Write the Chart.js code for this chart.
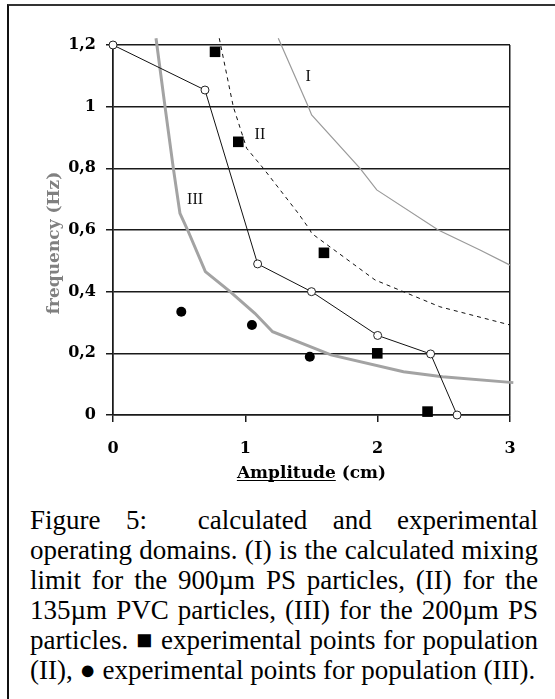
<!DOCTYPE html>
<html>
<head>
<meta charset="utf-8">
<script src="https://cdn.jsdelivr.net/npm/chart.js@4.4.1/dist/chart.umd.min.js"></script>
<style>
  html, body { margin: 0; padding: 0; background: #fff; }
  body { width: 555px; height: 699px; position: relative; overflow: hidden; }
  #frame { position: absolute; left: 7px; top: 4px; width: 560px; height: 720px;
           border-left: 2.5px solid #111; border-top: 2px solid #333; }
  #wrap { position: absolute; left: 0; top: 0; width: 555px; height: 500px; }
  #caption { position: absolute; left: 30px; top: 505px; width: 508px;
             font-family: "Liberation Serif", "Times New Roman", serif; font-size: 27px;
             line-height: 30px; color: #000; }
  #caption div { text-align: justify; text-align-last: justify; }
  #caption div.last { text-align: left; text-align-last: left; white-space: nowrap; }
</style>
</head>
<body>
<div id="frame"></div>
<div id="wrap"><canvas id="c"></canvas></div>
<div id="caption">
  <div>Figure 5:&nbsp; calculated and experimental</div>
  <div>operating domains. (I) is the calculated mixing</div>
  <div>limit for the 900µm PS particles, (II) for the</div>
  <div>135µm PVC particles, (III) for the 200µm PS</div>
  <div>particles. ■ experimental points for population</div>
  <div class="last">(II), ● experimental points for population (III).</div>
</div>
<script>
// ---- data ----
const xTickValues = [0, 1, 2, 3];
const yTickLabels = ['0', '0,2', '0,4', '0,6', '0,8', '1', '1,2'];
const xTitle = ['Amplitude', ' (cm)'];
const yTitle = 'frequency (Hz)';

// calculated mixing limits
const curveI_x   = [1.249, 1.476, 1.501, 1.867, 1.993, 2.458, 2.773, 3.0];
const curveI_y   = [1.222, 1.0,   0.973, 0.8,   0.73,  0.6,   0.535, 0.486];
const curveII_x  = [0.803, 0.909, 1.01,  1.136, 1.40,  1.489, 1.501, 1.98,  2.47,  3.0];
const curveII_y  = [1.222, 1.0,   0.865, 0.8,   0.654, 0.6,   0.589, 0.438, 0.351, 0.292];
const curveIII_x = [0.325, 0.393, 0.456, 0.506, 0.564, 0.698, 0.885, 1.072, 1.206, 1.647, 2.195, 2.49, 3.025];
const curveIII_y = [1.222, 1.0,   0.8,   0.654, 0.6,   0.465, 0.4,   0.33,  0.27,  0.195, 0.14,  0.124, 0.105];

// open-circle boundary
const openX = [0, 0.695, 1.093, 1.5, 2.0, 2.4, 2.6];
const openY = [1.2, 1.054, 0.49, 0.4, 0.258, 0.198, 0];

// experimental points, population (II) squares
const squareX = [0.771, 0.947, 1.594, 1.997, 2.377];
const squareY = [1.178, 0.886, 0.526, 0.2, 0.011];

// experimental points, population (III) filled circles
const dotX = [0.516, 1.05, 1.487];
const dotY = [0.335, 0.292, 0.189];

// curve labels
const curveLabels = ['I', 'II', 'III'];
const labelX = [1.474, 1.11, 0.62];
const labelY = [1.096, 0.908, 0.697];

const pts = (xs, ys) => xs.map((x, i) => ({x: x, y: ys[i]}));

const titleFontCss = 'bold 17px "DejaVu Serif", serif';

const labelPlugin = {
  id: 'curveLabels',
  afterDraw(chart) {
    const {ctx, chartArea: ca, scales: {x, y}} = chart;
    ctx.save();
    // curve labels
    ctx.font = '16px "Liberation Serif", serif';
    ctx.fillStyle = '#111';
    ctx.textAlign = 'center';
    ctx.textBaseline = 'middle';
    curveLabels.forEach((t, i) => {
      ctx.fillText(t, x.getPixelForValue(labelX[i]), y.getPixelForValue(labelY[i]));
    });
    // x axis title (first word underlined)
    ctx.font = titleFontCss;
    ctx.fillStyle = '#000';
    ctx.textAlign = 'left';
    ctx.textBaseline = 'alphabetic';
    const w0 = ctx.measureText(xTitle[0]).width;
    const wAll = ctx.measureText(xTitle.join('')).width;
    const cx = (ca.left + ca.right) / 2;
    const base = ca.bottom + 63;
    const x0 = cx - wAll / 2;
    ctx.fillText(xTitle.join(''), x0, base);
    ctx.strokeStyle = '#000';
    ctx.lineWidth = 1;
    ctx.beginPath();
    ctx.moveTo(x0, base + 2.5);
    ctx.lineTo(x0 + w0, base + 2.5);
    ctx.stroke();
    // y axis title
    ctx.translate(55, (ca.top + ca.bottom) / 2 + 13);
    ctx.rotate(-Math.PI / 2);
    ctx.textAlign = 'center';
    ctx.textBaseline = 'middle';
    ctx.fillStyle = '#808080';
    ctx.fillText(yTitle, 0, 0);
    ctx.restore();
  }
};

const axisDark = '#1a1a1a';
const tickFont = {family: '"DejaVu Serif", serif', size: 16, weight: 'bold'};

new Chart(document.getElementById('c'), {
  type: 'scatter',
  data: {
    datasets: [
      { label: 'pop II exp', data: pts(squareX, squareY), showLine: false,
        pointStyle: 'rect', pointRadius: 7.5, pointHoverRadius: 7.5,
        backgroundColor: '#000', borderColor: '#000', borderWidth: 0, clip: false },
      { label: 'pop III exp', data: pts(dotX, dotY), showLine: false,
        pointStyle: 'circle', pointRadius: 5, pointHoverRadius: 5,
        backgroundColor: '#000', borderColor: '#000', borderWidth: 0, clip: false },
      { label: 'boundary', data: pts(openX, openY), showLine: true,
        borderColor: '#111', borderWidth: 1, pointStyle: 'circle', pointRadius: 4,
        pointBackgroundColor: '#fff', pointBorderColor: '#222', pointBorderWidth: 1, clip: false },
      { label: 'II', data: pts(curveII_x, curveII_y), showLine: true,
        borderColor: '#111', borderWidth: 1, borderDash: [4, 4], pointRadius: 0, clip: false },
      { label: 'I', data: pts(curveI_x, curveI_y), showLine: true,
        borderColor: '#9a9a9a', borderWidth: 1.2, pointRadius: 0, clip: false },
      { label: 'III', data: pts(curveIII_x, curveIII_y), showLine: true,
        borderColor: '#a3a3a3', borderWidth: 3, pointRadius: 0, clip: false }
    ]
  },
  options: {
    responsive: true,
    maintainAspectRatio: false,
    animation: false,
    events: [],
    layout: { padding: {left: 0, right: 45, top: 45, bottom: 15} },
    plugins: { legend: {display: false}, tooltip: {enabled: false} },
    scales: {
      x: {
        type: 'linear', min: 0, max: 3,
        afterBuildTicks: s => { s.ticks = xTickValues.map(v => ({value: v})); },
        afterFit: s => { s.height = 70; },
        ticks: { font: tickFont, color: '#000', padding: 17, maxRotation: 0 },
        grid: {
          color: c => (c.tick && (c.tick.value === 0 || c.tick.value === 3)) ? axisDark : 'rgba(0,0,0,0)',
          tickColor: axisDark, tickLength: 7, lineWidth: 1.5
        },
        border: { display: true, color: axisDark, width: 1.5 },
        title: { display: false }
      },
      y: {
        type: 'linear', min: 0, max: 1.2,
        afterBuildTicks: s => { s.ticks = yTickLabels.map((t, i) => ({value: i * 0.2})); },
        afterFit: s => { s.width = 113; },
        ticks: { font: tickFont, color: '#000', padding: 10,
                 callback: (v, i) => yTickLabels[i] },
        grid: { color: axisDark, tickColor: axisDark, tickLength: 7, lineWidth: 1.5 },
        border: { display: true, color: axisDark, width: 1.5 },
        title: { display: false }
      }
    }
  },
  plugins: [labelPlugin]
});
</script>
</body>
</html>
